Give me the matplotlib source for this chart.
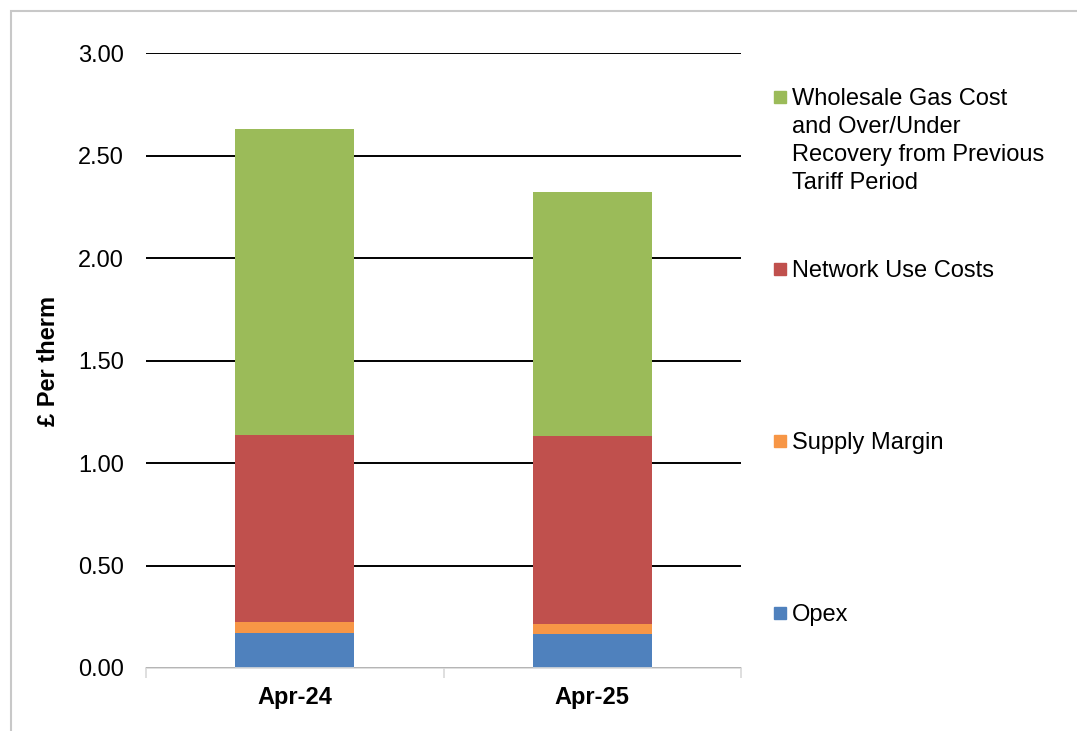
import matplotlib
matplotlib.use("Agg")
import matplotlib.pyplot as plt
from matplotlib.patches import Rectangle
import numpy as np

plt.rcParams['font.family'] = ['Liberation Sans', 'DejaVu Sans']

# values (GBP per therm)
periods = ["Apr-24", "Apr-25"]
opex = [0.172, 0.167]
supply_margin = [0.054, 0.049]
network_use = [0.912, 0.917]
wholesale = [1.493, 1.187]

series = [
    ("Opex", opex, "#4f81bd"),
    ("Supply Margin", supply_margin, "#f79646"),
    ("Network Use Costs", network_use, "#c0504d"),
    ("Wholesale Gas Cost\nand Over/Under\nRecovery from Previous\nTariff Period", wholesale, "#9bbb59"),
]

FS = 17
W, H = 1077, 731
fig = plt.figure(figsize=(W / 100, H / 100), dpi=100)
ax = fig.add_axes([146 / W, 1 - 668 / H, (741 - 146) / W, (668 - 53) / H])

x = np.arange(len(periods))
bottom = np.zeros(len(periods))
for name, vals, col in series:
    ax.bar(x, vals, width=0.4, bottom=bottom, color=col, zorder=3, label=name)
    bottom += np.array(vals)

ax.set_xlim(-0.5, 1.5)
ax.set_ylim(0, 3.0)
ticks = np.arange(0, 3.01, 0.5)
ax.set_yticks(ticks)
ax.set_yticklabels([f"{v:.2f}" for v in ticks], fontsize=FS)
ax.yaxis.grid(True, color="black", linewidth=1.4, zorder=0)
ax.tick_params(axis="y", length=0, pad=16)

ax.set_xticks(x)
ax.set_xticklabels(periods, fontsize=FS, fontweight="bold")
ax.set_xticks([-0.5, 0.5, 1.5], minor=True)
ax.tick_params(axis="x", which="major", length=0, pad=13)
ax.tick_params(axis="x", which="minor", length=7, color="#d9d9d9", width=1.2, direction="out")

for s in ["left", "right", "top"]:
    ax.spines[s].set_visible(False)
ax.spines["bottom"].set_color("#d9d9d9")
ax.spines["bottom"].set_linewidth(1.2)
ax.spines["bottom"].set_zorder(4)

ax.set_ylabel("£ Per therm", fontsize=FS, fontweight="bold", labelpad=13)

# legend laid out like the original, one entry per band, top to bottom
legend_rows = [(3, 97), (2, 269), (1, 441), (0, 613)]
for idx, ypix in legend_rows:
    name, _, col = series[idx]
    fig.patches.append(Rectangle((774 / W, 1 - (ypix + 6) / H), 12 / W, 12 / H,
                                 transform=fig.transFigure, color=col))
    fig.text(792 / W, 1 - (ypix - 9) / H, name, fontsize=FS, va="top", ha="left",
             linespacing=1.36)

# chart frame
fig.patches.append(Rectangle((10.5 / W, -0.1), 1.2, 1 - 10.5 / H + 0.1, transform=fig.transFigure,
                             fill=False, edgecolor="#c8c8c8", linewidth=1.5))

fig.savefig("out.png", dpi=100)
